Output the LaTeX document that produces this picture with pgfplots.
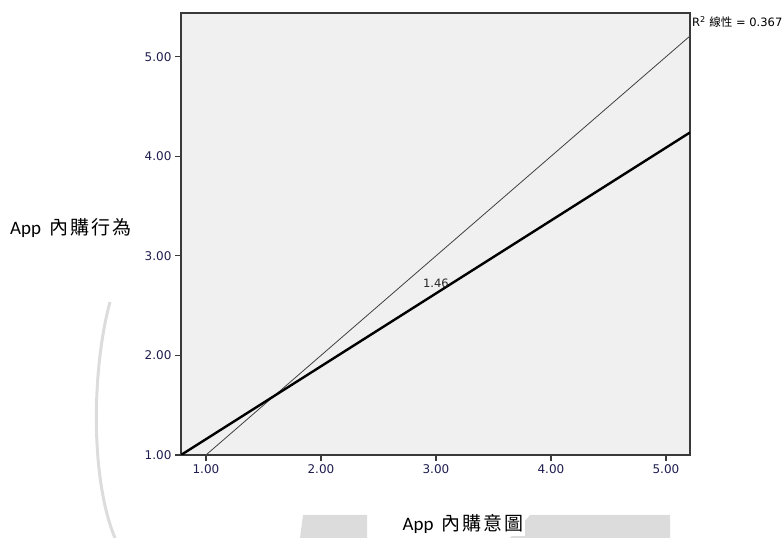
\documentclass[border=0pt]{standalone}
\usepackage{pgfplots}
\pgfplotsset{compat=1.18}
\usepackage{fontspec}
\setmainfont{DejaVu Sans}
\newfontfamily\cjk{Noto Sans CJK TC}
\newfontfamily\lab{Carlito}
\definecolor{bgfill}{HTML}{F0F0F0}
\definecolor{tickc}{HTML}{1E1E50}
\definecolor{framec}{HTML}{3A3A3A}
\definecolor{wm}{HTML}{DCDCDC}
\begin{document}
\begin{tikzpicture}
\useasboundingbox (0pt,0pt) rectangle (782pt,538pt);
% faint watermark
\draw[wm,line width=3pt] (110pt,236pt) .. controls (92pt,170pt) and (90pt,60pt) .. (115pt,0pt);
\fill[wm] (300pt,0pt) -- (303pt,23pt) -- (367pt,23pt) -- (367pt,0pt) -- cycle;
\fill[wm] (510pt,0pt) -- (530pt,23pt) -- (670pt,23pt) -- (670pt,0pt) -- cycle;
\begin{axis}[
  at={(181pt,83pt)}, anchor=south west,
  width=509pt, height=442pt, scale only axis,
  xmin=0.783, xmax=5.209, ymin=1.0, ymax=5.44,
  axis background/.style={fill=bgfill},
  axis line style={framec, line width=1.3pt},
  xtick={1,2,3,4,5}, ytick={1,2,3,4,5},
  tick align=outside, major tick length=6pt,
  tick style={framec, line width=1.2pt},
  xtick pos=bottom, ytick pos=left,
  minor tick num=0,
  ticklabel style={font=\fontsize{12}{14}\selectfont, text=tickc},
  /pgf/number format/assume math mode=true,
  /pgf/number format/fixed, /pgf/number format/zerofill, /pgf/number format/precision=2,
  clip=true,
]
\addplot[color=black!75, line width=0.8pt] coordinates {(1.0,1.0) (5.209,5.209)};
\addplot[color=black, line width=2.4pt] coordinates {(0.783,1.0) (5.209,4.24)};
\node[font=\fontsize{11.5}{13}\selectfont, text=black!85] at (axis cs:3.0,2.72) {1.46};
\end{axis}
\node[anchor=west, font=\fontsize{11.5}{13}\selectfont, inner sep=0pt] at (692pt,516pt) {R\textsuperscript{2} {\cjk 線性} = 0.367};
\node[anchor=west, inner sep=0pt, font=\fontsize{19}{22}\selectfont] at (10pt,310pt) {{\lab App}\hspace{8pt}{\cjk 內\hspace{2pt}購\hspace{2pt}行\hspace{2pt}為}};
\node[inner sep=2pt, fill=white, font=\fontsize{19}{22}\selectfont] at (463pt,14pt) {{\lab App}\hspace{8pt}{\cjk 內\hspace{2pt}購\hspace{2pt}意\hspace{2pt}圖}};
\end{tikzpicture}
\end{document}
